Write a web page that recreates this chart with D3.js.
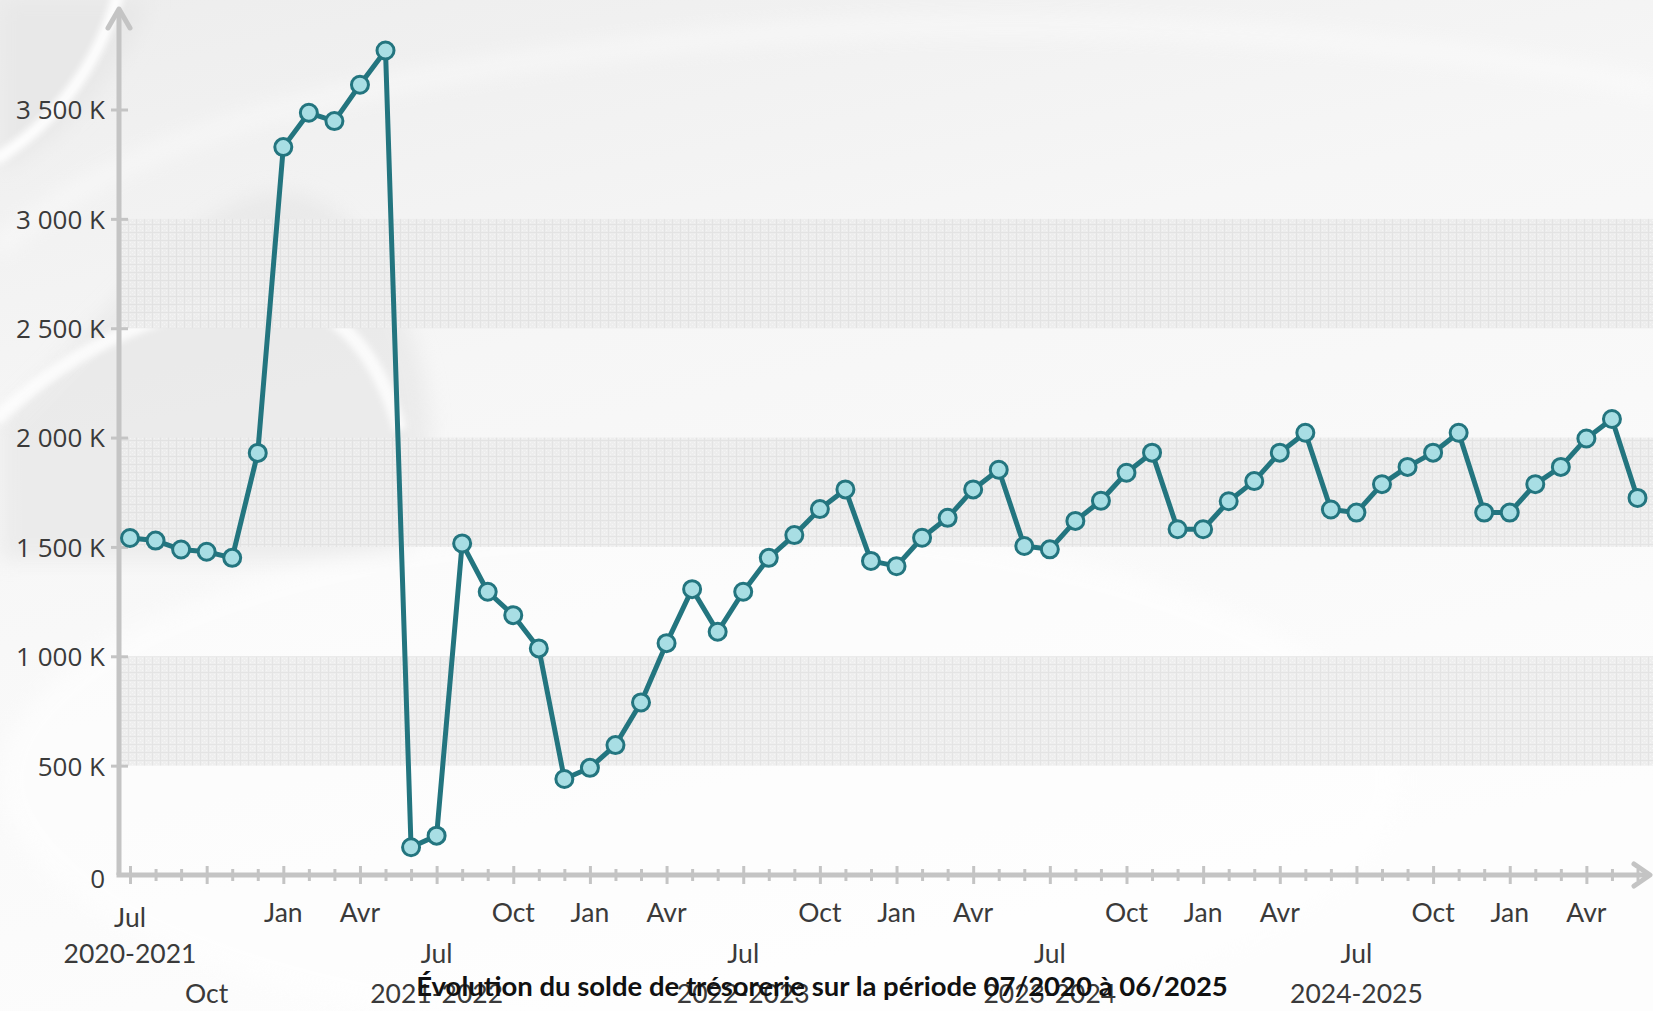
<!DOCTYPE html>
<html>
<head>
<meta charset="utf-8">
<script src="https://cdn.jsdelivr.net/npm/d3@7/dist/d3.min.js"></script>
<style>
  html, body { margin: 0; padding: 0; background: #f6f6f6; overflow: hidden; }
  svg { display: block; }
</style>
</head>
<body>
<svg id="chart" width="1653" height="1011"></svg>
<script>
// Monthly cash balance (solde de trésorerie), in K€
const months = [
  "07/2020","08/2020","09/2020","10/2020","11/2020","12/2020","01/2021","02/2021","03/2021","04/2021","05/2021","06/2021",
  "07/2021","08/2021","09/2021","10/2021","11/2021","12/2021","01/2022","02/2022","03/2022","04/2022","05/2022","06/2022",
  "07/2022","08/2022","09/2022","10/2022","11/2022","12/2022","01/2023","02/2023","03/2023","04/2023","05/2023","06/2023",
  "07/2023","08/2023","09/2023","10/2023","11/2023","12/2023","01/2024","02/2024","03/2024","04/2024","05/2024","06/2024",
  "07/2024","08/2024","09/2024","10/2024","11/2024","12/2024","01/2025","02/2025","03/2025","04/2025","05/2025","06/2025"
];
const solde = [
  1541, 1529, 1488, 1478, 1450, 1930, 3328, 3485, 3447, 3613, 3770, 127,
  180, 1516, 1295, 1188, 1036, 439, 490, 594, 789, 1060, 1307, 1112,
  1295, 1450, 1554, 1673, 1763, 1436, 1412, 1542, 1633, 1763, 1853, 1504,
  1489, 1619, 1711, 1839, 1931, 1581, 1581, 1709, 1801, 1931, 2022, 1671,
  1657, 1787, 1866, 1931, 2022, 1657, 1657, 1787, 1866, 1996, 2085, 1724
];
const quarterLabels = ["Jul", "Oct", "Jan", "Avr"];
const fiscalYears = ["2020-2021", "2021-2022", "2022-2023", "2023-2024", "2024-2025"];
const yTicks = [0, 500, 1000, 1500, 2000, 2500, 3000, 3500];
const bandRanges = [[500, 1000], [1500, 2000], [2500, 3000]];
const title = "Évolution du solde de trésorerie sur la période 07/2020 à 06/2025";

const W = 1653, H = 1011;
const svg = d3.select("#chart");
const defs = svg.append("defs");

const x = d3.scalePoint().domain(months).range([130, 1637.5]);
const y = d3.scaleLinear().domain([0, 3500]).range([875, 109.5]);
const axisX = 119;

const TEAL = "#23757f", CYAN = "#a8dee4", AXIS = "#c4c4c4", LABEL = "#3a3a3a";

// ---- background ----
const bgGrad = defs.append("linearGradient").attr("id", "bgGrad")
  .attr("x1", 0).attr("y1", 0).attr("x2", 0.35).attr("y2", 1);
bgGrad.append("stop").attr("offset", 0).attr("stop-color", "#ededed");
bgGrad.append("stop").attr("offset", 0.4).attr("stop-color", "#f6f6f6");
bgGrad.append("stop").attr("offset", 1).attr("stop-color", "#fdfdfd");
svg.append("rect").attr("width", W).attr("height", H).attr("fill", "url(#bgGrad)");

const soft = defs.append("filter").attr("id", "soft").attr("x", "-20%").attr("y", "-20%").attr("width", "140%").attr("height", "140%");
soft.append("feGaussianBlur").attr("stdDeviation", 3);
const softer = defs.append("filter").attr("id", "softer").attr("x", "-20%").attr("y", "-20%").attr("width", "140%").attr("height", "140%");
softer.append("feGaussianBlur").attr("stdDeviation", 10);

const deco = svg.append("g").attr("class", "decor");
// darker sweep in the top-left corner
deco.append("path").attr("d", "M0,0 L150,0 C120,80 60,140 0,170 Z")
  .attr("fill", "#e8e8e8").attr("filter", "url(#softer)");
// bright arc
deco.append("path").attr("d", "M118,-5 C100,60 60,120 -5,160")
  .attr("fill", "none").attr("stroke", "#ffffff").attr("stroke-width", 12)
  .attr("opacity", 0.9).attr("filter", "url(#soft)");
deco.append("path").attr("d", "M-5,250 C120,140 320,80 700,40 C1000,10 1400,30 1660,90")
  .attr("fill", "none").attr("stroke", "#ffffff").attr("stroke-width", 18)
  .attr("opacity", 0.45).attr("filter", "url(#softer)");
// grey hump
deco.append("path").attr("d", "M0,420 C120,300 200,200 270,192 C340,185 390,260 420,360 C440,430 430,520 400,560 L0,560 Z")
  .attr("fill", "#e4e4e4").attr("opacity", 0.6).attr("filter", "url(#softer)");
// white sweep under the hump
deco.append("path").attr("d", "M-5,420 C80,340 180,300 270,300 C340,300 380,360 400,430")
  .attr("fill", "none").attr("stroke", "#ffffff").attr("stroke-width", 14)
  .attr("opacity", 0.8).attr("filter", "url(#soft)");
// light lower area
deco.append("ellipse").attr("cx", 700).attr("cy", 780).attr("rx", 700).attr("ry", 260)
  .attr("fill", "#ffffff").attr("opacity", 0.55).attr("filter", "url(#softer)");

// ---- textured bands ----
const pat = defs.append("pattern").attr("id", "grid")
  .attr("patternUnits", "userSpaceOnUse").attr("width", 8).attr("height", 8);
pat.append("rect").attr("width", 8).attr("height", 8).attr("fill", "#ececec");
[[2, 2], [6, 2], [2, 6], [6, 6], [4, 4], [0, 4], [4, 0]].forEach(([px, py]) =>
  pat.append("rect").attr("x", px).attr("y", py).attr("width", 1).attr("height", 1).attr("fill", "#f5f5f5"));
pat.append("path").attr("d", "M0,0.5H8M0.5,0V8").attr("stroke", "#e1e1e1").attr("stroke-width", 1);

svg.append("g").attr("class", "bands")
  .selectAll("rect").data(bandRanges).join("rect")
  .attr("x", axisX + 2)
  .attr("width", W - axisX - 2)
  .attr("y", d => y(d[1]))
  .attr("height", d => y(d[0]) - y(d[1]))
  .attr("fill", "url(#grid)")
  .attr("opacity", 0.9);

// ---- axes ----
const axes = svg.append("g").attr("class", "axes");

// y axis with arrow
const yAxis = axes.append("g").attr("transform", `translate(${axisX},0)`)
  .call(d3.axisLeft(y).tickValues(yTicks).tickSize(0)
    .tickFormat(v => v === 0 ? "0" : d3.format(",")(v).replace(/,/g, " ") + " K"));
yAxis.select(".domain").remove();
yAxis.selectAll(".tick").filter(d => d !== 0).append("line")
  .attr("x1", -8).attr("x2", 9).attr("stroke", AXIS).attr("stroke-width", 3);
yAxis.selectAll(".tick text")
  .attr("x", -14).attr("dy", "0.36em")
  .attr("font-family", "'Open Sans', sans-serif").attr("font-size", 26)
  .attr("fill", LABEL).attr("text-anchor", "end");
yAxis.selectAll(".tick").filter(d => d === 0).select("text").attr("y", 3);

// x axis: one tick per month, taller ticks on quarter months
const xAxis = axes.append("g").attr("transform", `translate(0,${y(0)})`)
  .call(d3.axisBottom(x).tickValues(months).tickSize(0).tickFormat(""));
xAxis.select(".domain").remove();
xAxis.selectAll(".tick line")
  .attr("y1", (d, i) => i % 3 === 0 ? -9 : -6)
  .attr("y2", (d, i) => i % 3 === 0 ? 9 : 6)
  .attr("stroke", AXIS).attr("stroke-width", 3);

// axis lines and arrowheads
axes.append("path")
  .attr("d", `M${axisX},${y(0)} V12`)
  .attr("stroke", AXIS).attr("stroke-width", 5).attr("fill", "none");
axes.append("path")
  .attr("d", `M${axisX - 2.5},${y(0)} H1646`)
  .attr("stroke", AXIS).attr("stroke-width", 5).attr("fill", "none");
axes.append("path")
  .attr("d", `M${axisX - 11},28 L${axisX},9 L${axisX + 11},28`)
  .attr("stroke", AXIS).attr("stroke-width", 5).attr("fill", "none")
  .attr("stroke-linejoin", "round").attr("stroke-linecap", "round");
axes.append("path")
  .attr("d", `M1634,${y(0) - 11} L1650,${y(0)} L1634,${y(0) + 11}`)
  .attr("stroke", AXIS).attr("stroke-width", 5).attr("fill", "none")
  .attr("stroke-linejoin", "round").attr("stroke-linecap", "round");

// x labels: quarter months and fiscal years, staggered on three rows
const rowBase = [922, 963, 1003];
const xLabels = [];
fiscalYears.forEach((fy, yi) => {
  quarterLabels.forEach((q, qi) => {
    const m = months[yi * 12 + qi * 3];
    let row = 0, shift = 0;
    if (qi === 0) { row = yi === 0 ? 0 : 1; shift = yi === 0 ? 5 : 0; }
    if (yi === 0 && qi === 1) row = 2;
    xLabels.push({ text: q, m, y: rowBase[row] + shift });
  });
  xLabels.push({ text: fy, m: months[yi * 12], y: rowBase[yi === 0 ? 1 : 2] });
});
axes.append("g").selectAll("text").data(xLabels).join("text")
  .attr("x", d => x(d.m))
  .attr("y", d => d.y)
  .attr("text-anchor", "middle")
  .attr("font-family", "Lato, 'Open Sans', sans-serif")
  .attr("font-size", 26.5)
  .attr("fill", LABEL)
  .text(d => d.text);

// ---- series ----
const pts = months.map((m, i) => ({ m, v: solde[i] }));
svg.append("path").datum(pts)
  .attr("d", d3.line().x(d => x(d.m)).y(d => y(d.v)))
  .attr("fill", "none").attr("stroke", TEAL).attr("stroke-width", 5)
  .attr("stroke-linejoin", "round");
svg.append("g").selectAll("circle").data(pts).join("circle")
  .attr("cx", d => x(d.m)).attr("cy", d => y(d.v))
  .attr("r", 8.5)
  .attr("fill", CYAN).attr("stroke", TEAL).attr("stroke-width", 3);

// ---- title ----
svg.append("text")
  .attr("x", 822).attr("y", 996)
  .attr("text-anchor", "middle")
  .attr("font-family", "Lato, 'Open Sans', sans-serif")
  .attr("font-weight", "bold")
  .attr("font-size", 27.5)
  .attr("fill", "#111111")
  .text(title);
</script>
</body>
</html>
